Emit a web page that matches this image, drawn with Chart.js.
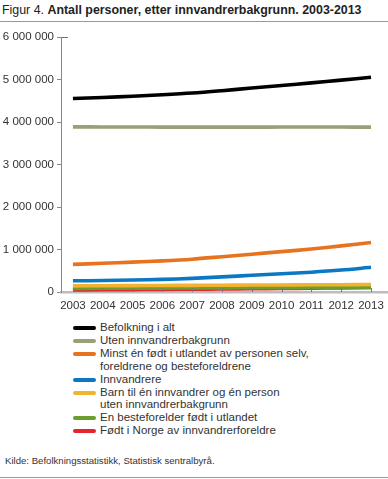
<!DOCTYPE html>
<html>
<head>
<meta charset="utf-8">
<script src="https://cdn.jsdelivr.net/npm/chart.js@4.4.0/dist/chart.umd.min.js"></script>
<style>
  body { margin: 0; background: #fff; font-family: "Liberation Sans", Arial, sans-serif; color: #222; }
  #wrap { position: relative; width: 388px; height: 479px; overflow: hidden; }
  #title { position: absolute; left: 2px; top: 3px; font-size: 12.4px; white-space: nowrap; }
  #title b { font-weight: bold; }
  .rule { position: absolute; left: 0; width: 388px; height: 1px; background: #999; }
  #chart { position: absolute; left: 0; top: 25px; }
  #legend { position: absolute; left: 73px; top: 321px; font-size: 11.5px; line-height: 12.9px; color: #333; }
  .item { display: flex; align-items: flex-start; }
  .sym { width: 23px; height: 4px; margin-top: 5px; margin-right: 4px; flex: none; border-radius: 2px; }
  #source { position: absolute; left: 5px; top: 455px; font-size: 9.6px; color: #333; }
</style>
</head>
<body>
<div id="wrap">
  <div id="title">Figur 4. <b>Antall personer, etter innvandrerbakgrunn. 2003-2013</b></div>
  <div class="rule" style="top:21px"></div>
  <canvas id="chart" width="388" height="290"></canvas>
  <div id="legend"></div>
  <div id="source">Kilde: Befolkningsstatistikk, Statistisk sentralbyrå.</div>
  <div class="rule" style="top:477px"></div>
</div>
<script>
const years = [2003, 2004, 2005, 2006, 2007, 2008, 2009, 2010, 2011, 2012, 2013];
const yTicks = [0, 1000000, 2000000, 3000000, 4000000, 5000000, 6000000];

// Series values
const befolkning = [4552000, 4577000, 4606000, 4640000, 4681000, 4737000, 4799000, 4858000, 4920000, 4986000, 5051000];
const utenBakgrunn = [3885000, 3884000, 3882000, 3880000, 3879000, 3879000, 3880000, 3881000, 3882000, 3881000, 3880000];
const minstEn = [650000, 675000, 702000, 732000, 772000, 830000, 890000, 950000, 1012000, 1085000, 1165000];
const innvandrere = [263000, 270000, 281000, 296000, 320000, 356000, 393000, 428000, 466000, 516000, 582000];
const barnEnInnvandrer = [145000, 148000, 151000, 154000, 157000, 160000, 163000, 166000, 169000, 172000, 175000];
const besteforelder = [85000, 87000, 90000, 92000, 95000, 97000, 100000, 102000, 105000, 107000, 110000];
const foedtINorge = [48000, 52000, 56000, 61000, 66000, 71000, 77000, 83000, 90000, 97000, 105000];

const seriesLabels = [
  ["Befolkning i alt"],
  ["Uten innvandrerbakgrunn"],
  ["Minst én født i utlandet av personen selv,", "foreldrene og besteforeldrene"],
  ["Innvandrere"],
  ["Barn til én innvandrer og én person", "uten innvandrerbakgrunn"],
  ["En besteforelder født i utlandet"],
  ["Født i Norge av innvandrerforeldre"]
];
const seriesData = [befolkning, utenBakgrunn, minstEn, innvandrere, barnEnInnvandrer, besteforelder, foedtINorge];
const seriesColors = ["#000000", "#9c9e78", "#e8731e", "#0a78c2", "#f2b330", "#6b9e2e", "#e5252b"];

Chart.defaults.font.family = "'Liberation Sans', Arial, sans-serif";
Chart.defaults.font.size = 11.5;
Chart.defaults.color = "#333";

// Small tick marks drawn the way the original figure has them
const tickMarks = {
  id: "tickMarks",
  afterDraw(chart) {
    const ctx = chart.ctx;
    const x = chart.scales.x;
    const y = chart.scales.y;
    ctx.save();
    ctx.strokeStyle = "#777";
    ctx.lineWidth = 1;
    ctx.beginPath();
    years.forEach((yr) => {
      const px = Math.round(x.getPixelForValue(yr)) + 0.5;
      ctx.moveTo(px, y.bottom);
      ctx.lineTo(px, y.bottom - 4);
    });
    const top = Math.round(y.getPixelForValue(6000000)) + 0.5;
    ctx.moveTo(x.left, top);
    ctx.lineTo(x.left + 7, top);
    ctx.stroke();
    ctx.restore();
  }
};

new Chart(document.getElementById("chart"), {
  type: "line",
  data: {
    datasets: seriesData.map((values, i) => ({
      label: seriesLabels[i].join(" "),
      data: years.map((yr, j) => ({ x: yr, y: values[j] })),
      borderColor: seriesColors[i],
      backgroundColor: seriesColors[i],
      borderWidth: 3.6,
      pointRadius: 0,
      tension: 0.3,
      fill: false,
    })),
  },
  plugins: [tickMarks],
  options: {
    responsive: false,
    animation: false,
    layout: { padding: { top: 12, right: 0, left: 0, bottom: 0 } },
    plugins: {
      legend: { display: false },
      tooltip: { enabled: false },
    },
    scales: {
      x: {
        type: "linear",
        min: 2002.6,
        max: 2013.57,
        afterBuildTicks: (scale) => {
          scale.ticks = years.map((v) => ({ value: v }));
        },
        afterFit: (scale) => {
          scale.height = 23;
        },
        ticks: {
          autoSkip: false,
          maxRotation: 0,
          padding: -1,
          callback: (v) => String(v),
          color: "#333",
        },
        grid: { display: false },
        border: { display: true, color: "#bdbdbd", width: 2.5 },
      },
      y: {
        min: 0,
        max: 6000000,
        afterBuildTicks: (scale) => {
          scale.ticks = yTicks.map((v) => ({ value: v }));
        },
        afterFit: (scale) => {
          scale.width = 61;
        },
        ticks: {
          padding: 3,
          color: "#333",
          callback: (v) => v.toString().replace(/\B(?=(\d{3})+(?!\d))/g, " "),
        },
        grid: { drawOnChartArea: false, tickLength: 4, color: "#888" },
        border: { display: true, color: "#888", width: 1 },
      },
    },
  },
});

// HTML legend, since some labels wrap onto two lines
const legendBox = document.getElementById("legend");
seriesLabels.forEach((lines, i) => {
  const item = document.createElement("div");
  item.className = "item";
  const sym = document.createElement("span");
  sym.className = "sym";
  sym.style.background = seriesColors[i];
  const txt = document.createElement("span");
  txt.innerHTML = lines.join("<br>");
  item.appendChild(sym);
  item.appendChild(txt);
  legendBox.appendChild(item);
});
</script>
</body>
</html>
